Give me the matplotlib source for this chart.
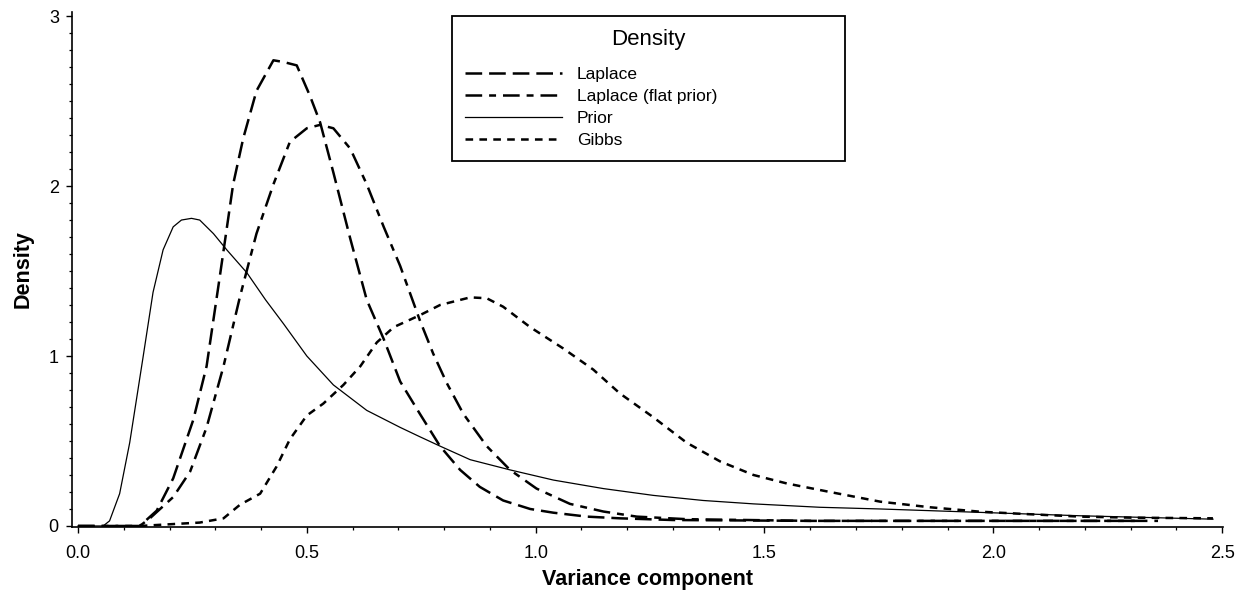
import numpy as np
import matplotlib
matplotlib.use("Agg")
import matplotlib.pyplot as plt
from matplotlib.ticker import MultipleLocator, FormatStrFormatter

plt.rcParams['font.family'] = ['Liberation Sans', 'DejaVu Sans']
plt.rcParams['lines.scale_dashes'] = False

# values
prior_x = [0.0, 0.055, 0.069, 0.091, 0.113, 0.142, 0.164, 0.186, 0.208, 0.226, 0.248, 0.266,
           0.296, 0.325, 0.369, 0.41, 0.449, 0.5, 0.558, 0.631, 0.704, 0.747, 0.791, 0.857,
           0.944, 1.039, 1.148, 1.257, 1.366, 1.476, 1.621, 1.753, 1.971, 2.19, 2.48]
prior_y = [0.0, 0.0, 0.03, 0.19, 0.49, 0.99, 1.375, 1.625, 1.76, 1.80, 1.81, 1.80,
           1.72, 1.625, 1.49, 1.33, 1.19, 1.0, 0.83, 0.68, 0.58, 0.525, 0.47, 0.39,
           0.33, 0.27, 0.22, 0.18, 0.15, 0.13, 0.11, 0.10, 0.08, 0.06, 0.04]

laplace_x = [0.0, 0.135, 0.172, 0.208, 0.252, 0.281, 0.31, 0.339, 0.361, 0.39, 0.427, 0.449,
             0.478, 0.507, 0.529, 0.558, 0.595, 0.631, 0.668, 0.704, 0.747, 0.791, 0.835,
             0.878, 0.929, 0.988, 1.039, 1.112, 1.184, 1.3, 1.6, 2.0, 2.36]
laplace_y = [0.0, 0.0, 0.09, 0.28, 0.625, 0.94, 1.47, 2.01, 2.28, 2.56, 2.74, 2.73,
             2.71, 2.53, 2.375, 2.08, 1.69, 1.33, 1.10, 0.85, 0.66, 0.47, 0.33,
             0.23, 0.15, 0.10, 0.078, 0.055, 0.045, 0.035, 0.03, 0.03, 0.03]

flat_x = [0.0, 0.135, 0.157, 0.208, 0.245, 0.281, 0.318, 0.354, 0.39, 0.427, 0.463, 0.5,
          0.529, 0.558, 0.595, 0.631, 0.668, 0.704, 0.747, 0.776, 0.806, 0.842, 0.893,
          0.944, 1.002, 1.075, 1.148, 1.221, 1.33, 1.6, 2.0, 2.32]
flat_y = [0.0, 0.0, 0.045, 0.17, 0.32, 0.58, 0.94, 1.35, 1.72, 2.01, 2.26, 2.34,
          2.36, 2.34, 2.22, 2.01, 1.76, 1.53, 1.21, 1.015, 0.84, 0.66, 0.47,
          0.33, 0.22, 0.13, 0.085, 0.055, 0.04, 0.03, 0.03, 0.03]

gibbs_x = [0.135, 0.266, 0.318, 0.354, 0.398, 0.434, 0.463, 0.5, 0.536, 0.58, 0.617, 0.653,
           0.69, 0.747, 0.791, 0.857, 0.893, 0.929, 0.988, 1.06, 1.126, 1.184, 1.257, 1.33,
           1.403, 1.476, 1.549, 1.643, 1.753, 1.862, 1.971, 2.08, 2.19, 2.30, 2.48]
gibbs_y = [0.0, 0.02, 0.045, 0.125, 0.19, 0.35, 0.51, 0.65, 0.72, 0.83, 0.94, 1.08,
           1.17, 1.24, 1.30, 1.345, 1.34, 1.29, 1.17, 1.045, 0.92, 0.78, 0.64, 0.49,
           0.38, 0.30, 0.25, 0.20, 0.143, 0.11, 0.084, 0.069, 0.055, 0.049, 0.045]

fig = plt.figure(figsize=(12.4, 5.95), dpi=100)
ax = fig.add_axes([0.0581, 0.1143, 0.9282, 0.8655])

ax.plot(laplace_x, laplace_y, color='black', lw=1.8, ls=(0, (12, 5)), label='Laplace')
ax.plot(flat_x, flat_y, color='black', lw=1.8, ls=(0, (12, 5, 5, 5)), label='Laplace (flat prior)')
ax.plot(prior_x, prior_y, color='black', lw=0.9, ls='-', label='Prior')
ax.plot(gibbs_x, gibbs_y, color='black', lw=1.8, ls=(0, (5.5, 4.5)), label='Gibbs')

ax.set_xlim(-0.013, 2.502)
ax.set_ylim(-0.006, 3.024)

ax.spines['top'].set_visible(False)
ax.spines['right'].set_visible(False)
ax.spines['left'].set_linewidth(1.2)
ax.spines['bottom'].set_linewidth(1.2)

ax.xaxis.set_major_locator(MultipleLocator(0.5))
ax.xaxis.set_minor_locator(MultipleLocator(0.1))
ax.xaxis.set_major_formatter(FormatStrFormatter('%.1f'))
ax.yaxis.set_major_locator(MultipleLocator(1))
ax.yaxis.set_minor_locator(MultipleLocator(0.1))
ax.tick_params(which='major', length=4.5, width=1.0, labelsize=13, pad=5)
ax.tick_params(axis='x', which='major', pad=8.5)
ax.tick_params(which='minor', length=2.5, width=0.9)

ax.set_xlabel('Variance component', fontsize=15.5, fontweight='bold', labelpad=5)
ax.set_ylabel('Density', fontsize=15.5, fontweight='bold', labelpad=11)

# legend box spans a fixed region at the top middle of the axes
leg = ax.legend(loc='upper left', bbox_to_anchor=(0.330, 0.715, 0.342, 0.277), mode='expand',
                title='Density', title_fontsize=16, fontsize=12.5, frameon=True, fancybox=False,
                handlelength=5.6, handletextpad=0.85, labelspacing=0.4, borderpad=0.75,
                borderaxespad=0)
leg._legend_box.sep = 12  # gap between title and entries
leg.get_frame().set_edgecolor('black')
leg.get_frame().set_linewidth(1.3)
leg.get_frame().set_alpha(1)

fig.savefig('out.png', dpi=100)
